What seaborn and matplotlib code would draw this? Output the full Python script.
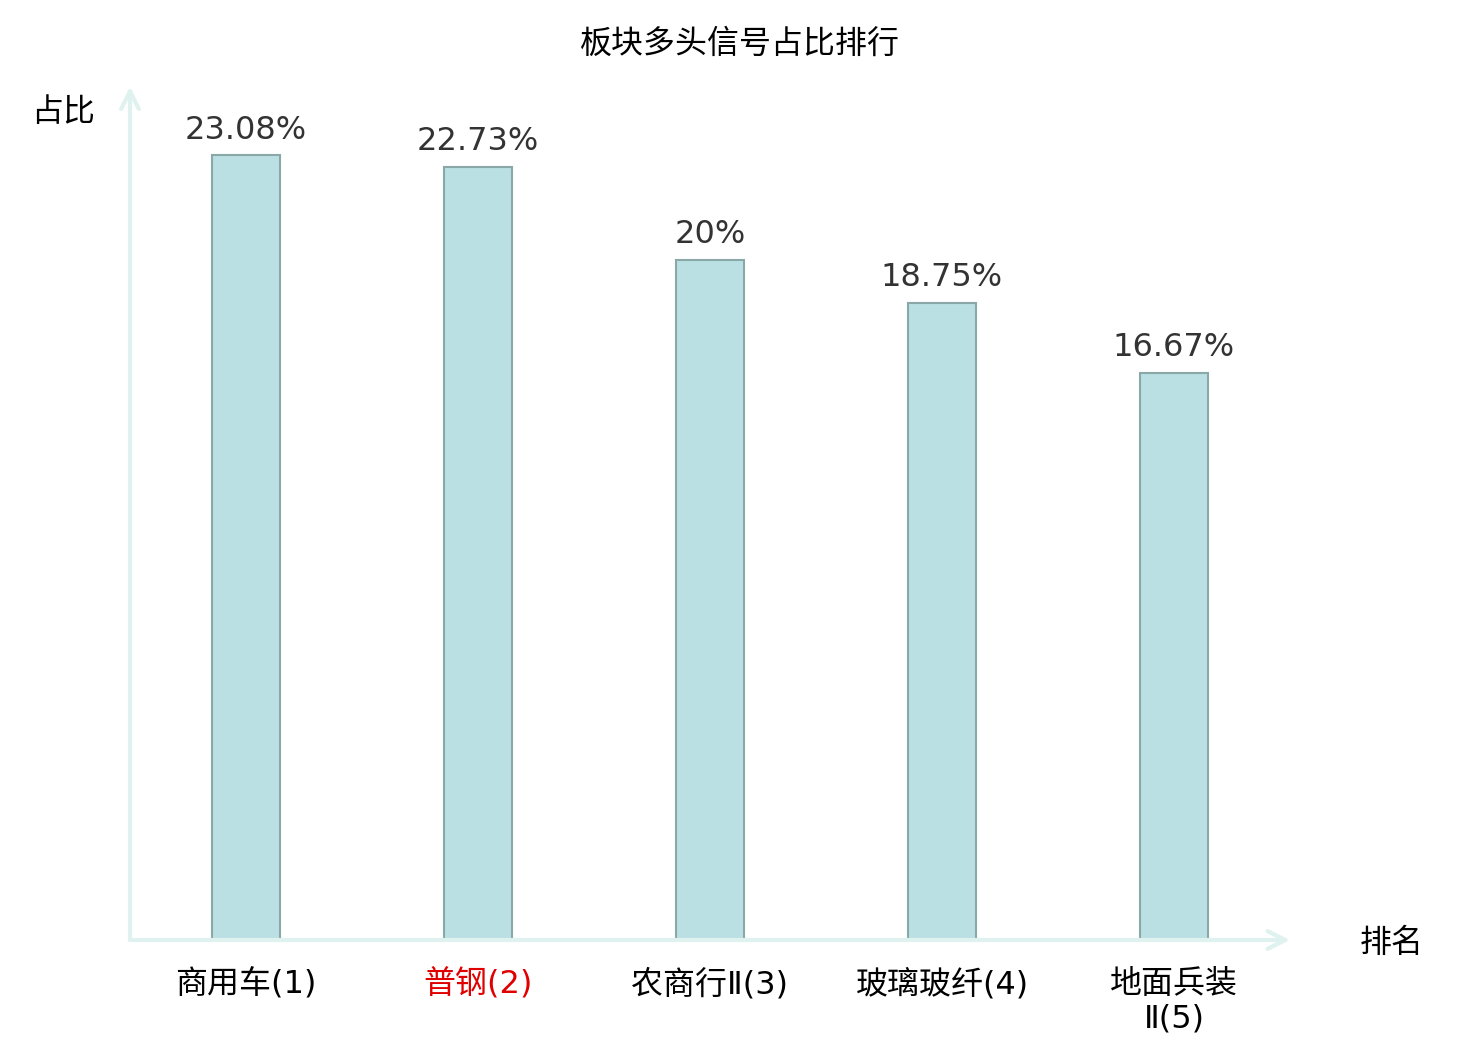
import matplotlib
matplotlib.use("Agg")
import matplotlib.pyplot as plt
import seaborn as sns
import pandas as pd

categories = ["商用车(1)", "普钢(2)", "农商行Ⅱ(3)", "玻璃玻纤(4)", "地面兵装\nⅡ(5)"]
values = [23.08, 22.73, 20.0, 18.75, 16.67]
value_labels = ["23.08%", "22.73%", "20%", "18.75%", "16.67%"]
title = "板块多头信号占比排行"
x_name = "排名"
y_name = "占比"
highlight_index = 1

sns.set_theme(style="white")
plt.rcParams['font.family'] = ['DejaVu Sans', 'Noto Sans CJK SC']
plt.rcParams['axes.unicode_minus'] = False

df = pd.DataFrame({"cat": categories, "val": values})

fig = plt.figure(figsize=(14.8, 10.4), dpi=100)
ax = fig.add_axes([130 / 1480, 100 / 1040, 1160 / 1480, 850 / 1040])

sns.barplot(data=df, x="cat", y="val", ax=ax, color="#bbe0e3", saturation=1,
            width=0.293, edgecolor="#8aa8a8", linewidth=1.5)

ax.set_xlim(-0.5, 4.5)
ax.set_ylim(0, 25)
ax.set_xlabel("")
ax.set_ylabel("")
ax.set_yticks([])
for s in ax.spines.values():
    s.set_visible(False)

ax.tick_params(axis="x", length=0, pad=21, labelsize=23)
for i, t in enumerate(ax.get_xticklabels()):
    t.set_linespacing(1.12)
    t.set_color("#e00000" if i == highlight_index else "#000000")

ax.bar_label(ax.containers[0], labels=value_labels, padding=7,
             fontsize=23, color="#333333")

axis_color = "#dff2ef"
ax.annotate("", xy=(1.0, 0), xytext=(0, 0), xycoords="axes fraction",
            textcoords="axes fraction",
            arrowprops=dict(arrowstyle="->", color=axis_color, lw=3,
                            mutation_scale=32, shrinkA=0, shrinkB=0),
            annotation_clip=False)
ax.annotate("", xy=(0, 1.004), xytext=(0, 0), xycoords="axes fraction",
            textcoords="axes fraction",
            arrowprops=dict(arrowstyle="->", color=axis_color, lw=3,
                            mutation_scale=32, shrinkA=0, shrinkB=0),
            annotation_clip=False)

fig.text(740 / 1480, 1 - 44 / 1040, title, ha="center", va="center",
         fontsize=23, color="#000000")
fig.text(1392 / 1480, 1 - 943 / 1040, x_name, ha="center", va="center",
         fontsize=23, color="#000000")
fig.text(63 / 1480, 1 - 112 / 1040, y_name, ha="center", va="center",
         fontsize=23, color="#000000")

fig.savefig("out.png", dpi=100, facecolor="white")
